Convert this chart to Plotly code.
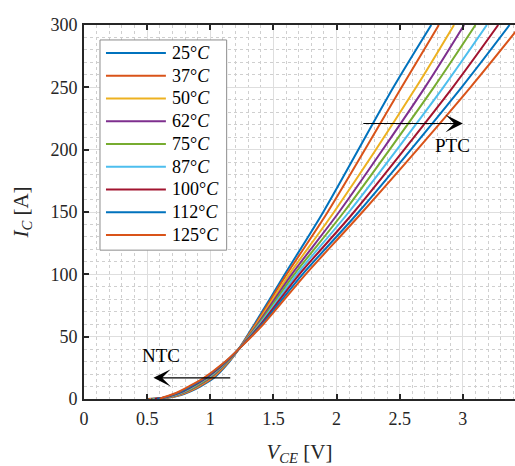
import plotly.graph_objects as go

# ---- data ----
temps = ["25", "37", "50", "62", "75", "87", "100", "112", "125"]
colors = ["#0072BD", "#D95319", "#EDB120", "#7E2F8E", "#77AC30",
          "#4DBEEE", "#A2142F", "#0072BD", "#D95319"]

# collector current levels [A]
ic = [0, 1, 3, 6, 10, 17, 28, 40, 60, 100, 150, 250, 300]

# collector-emitter voltage [V] at each current level, per temperature
vce_25 = [0.50, 0.660, 0.760, 0.840, 0.920, 1.030, 1.135, 1.225, 1.350, 1.590, 1.895, 2.450, 2.750]
vce_37 = [0.51, 0.655, 0.750, 0.830, 0.910, 1.020, 1.130, 1.225, 1.357, 1.605, 1.930, 2.515, 2.810]
vce_50 = [0.52, 0.650, 0.740, 0.820, 0.900, 1.010, 1.125, 1.225, 1.366, 1.625, 1.980, 2.630, 2.930]
vce_62 = [0.53, 0.645, 0.730, 0.810, 0.890, 1.000, 1.120, 1.225, 1.375, 1.645, 2.020, 2.700, 3.010]
vce_75 = [0.54, 0.640, 0.720, 0.800, 0.880, 0.990, 1.115, 1.225, 1.383, 1.665, 2.058, 2.770, 3.100]
vce_87 = [0.55, 0.635, 0.710, 0.790, 0.865, 0.980, 1.110, 1.225, 1.392, 1.685, 2.098, 2.845, 3.190]
vce_100 = [0.56, 0.630, 0.700, 0.780, 0.855, 0.970, 1.105, 1.225, 1.401, 1.705, 2.138, 2.920, 3.280]
vce_112 = [0.58, 0.625, 0.690, 0.770, 0.845, 0.960, 1.100, 1.225, 1.410, 1.730, 2.175, 2.990, 3.370]
vce_125 = [0.60, 0.620, 0.680, 0.755, 0.830, 0.950, 1.095, 1.225, 1.420, 1.755, 2.205, 3.060, 3.460]
vce_all = [vce_25, vce_37, vce_50, vce_62, vce_75, vce_87, vce_100, vce_112, vce_125]

x_ticks = [0, 0.5, 1, 1.5, 2, 2.5, 3]
y_ticks = [0, 50, 100, 150, 200, 250, 300]

# annotation arrows: (tail_x, tail_y) -> (head_x, head_y)
ptc_arrow = [2.2, 221, 3.0, 221]
ntc_arrow = [1.17, 17, 0.55, 17]
ptc_label = [2.92, 203]
ntc_label = [0.61, 35]

FONT = "Liberation Serif"
AX = "#262626"

fig = go.Figure()
for t, c, v in zip(temps, colors, vce_all):
    fig.add_trace(go.Scatter(
        x=v, y=ic, mode="lines", name=f"{t}°C", showlegend=False,
        line=dict(color=c, width=2, shape="spline", smoothing=0.8),
    ))

# ---- legend box (drawn in plot-area fractions) ----
LX0, LX1, LY0, LY1 = 0.0371, 0.331, 0.398, 0.960
fig.add_shape(type="rect", xref="paper", yref="paper", x0=LX0, x1=LX1, y0=LY0, y1=LY1,
              fillcolor="white", line=dict(color="#8c8c8c", width=1), layer="above")
first_y, step_y = 0.9251, 0.0608
for k, (t, c) in enumerate(zip(temps, colors)):
    yy = first_y - k * step_y
    fig.add_shape(type="line", xref="paper", yref="paper", x0=0.051, x1=0.190, y0=yy, y1=yy,
                  line=dict(color=c, width=2), layer="above")
    fig.add_annotation(xref="paper", yref="paper", x=0.200, y=yy, xanchor="left", yanchor="middle",
                       text=f"{t}°<i>C</i>", showarrow=False,
                       font=dict(family=FONT, size=18, color="black"))

for arr in (ptc_arrow, ntc_arrow):
    fig.add_annotation(x=arr[2], y=arr[3], ax=arr[0], ay=arr[1],
                       xref="x", yref="y", axref="x", ayref="y", text="",
                       showarrow=True, arrowhead=3, arrowsize=2.4, arrowwidth=1.2,
                       arrowcolor="black")
fig.add_annotation(x=ptc_label[0], y=ptc_label[1], text="PTC", showarrow=False,
                   font=dict(family=FONT, size=19, color="black"))
fig.add_annotation(x=ntc_label[0], y=ntc_label[1], text="NTC", showarrow=False,
                   font=dict(family=FONT, size=19, color="black"))

fig.update_layout(
    width=515, height=466,
    margin=dict(l=84, r=0, t=25, b=67),
    paper_bgcolor="white", plot_bgcolor="white",
    font=dict(family=FONT, size=18, color=AX),
    showlegend=False,
)
fig.update_xaxes(
    range=[0, 3.413], tickvals=x_ticks, automargin=False,
    showline=True, linecolor=AX, linewidth=2, mirror="ticks",
    ticks="inside", ticklen=5, tickwidth=1.5, tickcolor=AX,
    showgrid=True, gridcolor="#dedede", gridwidth=1, zeroline=False,
    minor=dict(dtick=0.1, showgrid=True, gridcolor="#cfcfcf", griddash="dot", gridwidth=1),
    title=dict(text="<i>V</i><sub><i>CE</i></sub> [V]", font=dict(size=21, family=FONT), standoff=18),
    ticklabelstandoff=2,
)
fig.update_yaxes(
    range=[0, 300], tickvals=y_ticks, automargin=False,
    showline=True, linecolor=AX, linewidth=2, mirror=False,
    ticks="inside", ticklen=5, tickwidth=1.5, tickcolor=AX,
    showgrid=True, gridcolor="#dedede", gridwidth=1, zeroline=False,
    minor=dict(dtick=10, showgrid=True, gridcolor="#cfcfcf", griddash="dot", gridwidth=1),
    title=dict(text="<i>I</i><sub><i>C</i></sub> [A]", font=dict(size=21, family=FONT), standoff=16),
    ticklabelstandoff=1,
)

fig.write_html("out.html", config={"displayModeBar": False},
               post_script="document.body.style.margin='0px';")
